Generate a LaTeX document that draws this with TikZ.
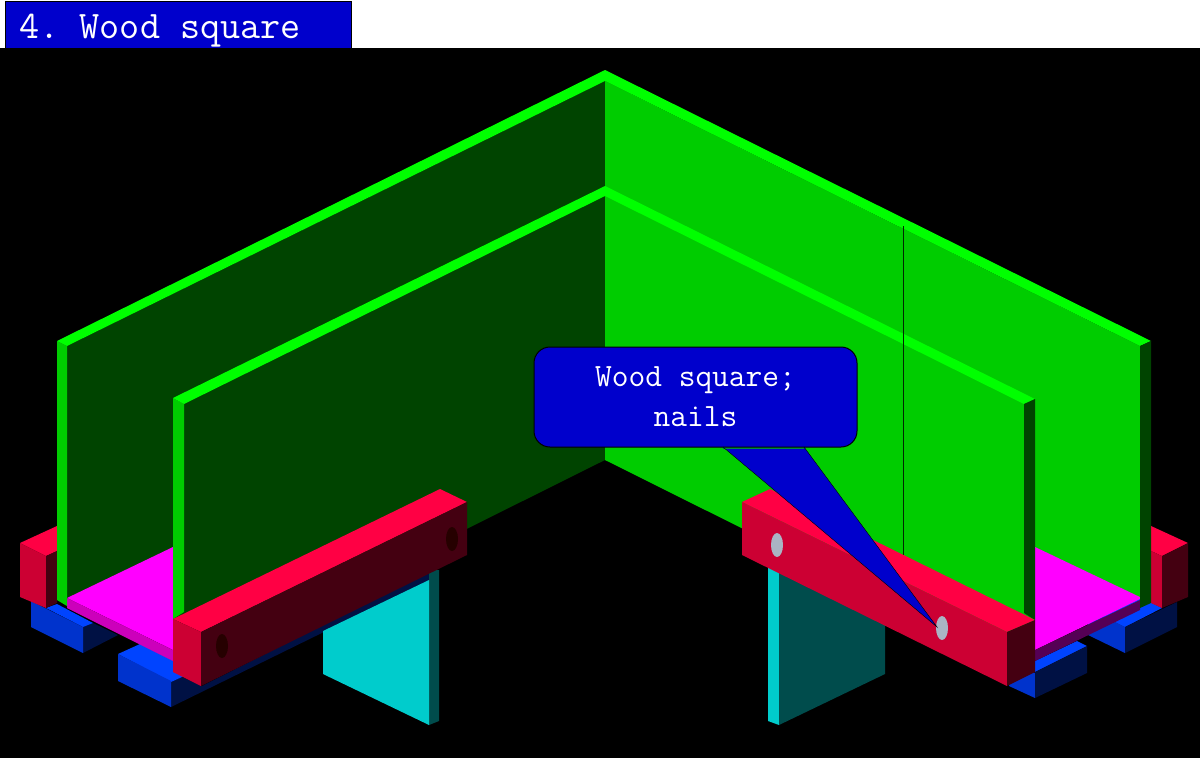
\documentclass[tikz,border=0pt]{standalone}
\definecolor{wallbright}{HTML}{00FF00}
\definecolor{wallmid}{HTML}{00CC00}
\definecolor{walldark}{HTML}{004400}
\definecolor{beamtop}{HTML}{FF0044}
\definecolor{beammid}{HTML}{CC0033}
\definecolor{beamdark}{HTML}{440011}
\definecolor{blocktop}{HTML}{0044FF}
\definecolor{blockmid}{HTML}{0033CC}
\definecolor{blockdark}{HTML}{001144}
\definecolor{panelmid}{HTML}{00CCCC}
\definecolor{paneldark}{HTML}{004C4C}
\definecolor{floorlight}{HTML}{FF00FF}
\definecolor{floorleft}{HTML}{CC00BB}
\definecolor{floorright}{HTML}{550055}
\definecolor{tagblue}{HTML}{0000CC}
\definecolor{nailgrey}{HTML}{AAB4C4}
\tikzset{
  titlebox/.style={draw=black,line width=1pt,fill=tagblue,text=white,anchor=north west,minimum height=47pt,
    text height=27pt,text depth=0pt,inner xsep=14pt,inner ysep=0pt,
    font=\fontsize{39}{40}\selectfont\ttfamily},
  tagbox/.style={draw=black,line width=1pt,fill=tagblue,text=white,rounded corners=16pt,minimum width=323pt,
    minimum height=100pt,align=center,font=\fontsize{32.5}{40}\selectfont\ttfamily},
  nail/.style={fill=nailgrey},
  hole/.style={fill=black!85!red}
}
\begin{document}
\begin{tikzpicture}[x=1pt,y=-1pt]
\useasboundingbox (0,0) rectangle (1200,758);
% page and black ground
\fill[white] (0,0) rectangle (1200,48);
\fill[black] (0,48) rectangle (1200,758);
% blocks under the left side
\fill[blockdark] (83,627) -- (93,623) -- (118,635) -- (83,653) -- cycle;
\fill[blocktop] (46,608) -- (57,604) -- (93,623) -- (83,627) -- cycle;
\fill[blockmid] (31,601) -- (83,627) -- (83,653) -- (31,627) -- cycle;
\fill[blockdark] (171,682) -- (182,677) -- (202,686) -- (436,568) -- (436,577) -- (171,707) -- cycle;
\fill[blocktop] (118,654) -- (140,644) -- (193,671) -- (182,677) -- (171,682) -- cycle;
\fill[blockmid] (118,654) -- (171,681) -- (171,707) -- (118,681) -- cycle;
% blocks under the right side
\fill[blockmid] (1088,609) -- (1125,627) -- (1125,653) -- (1088,635) -- cycle;
\fill[blocktop] (1088,609) -- (1125,590) -- (1162,608) -- (1125,627) -- cycle;
\fill[blockdark] (1125,627) -- (1177,602) -- (1177,627) -- (1125,653) -- cycle;
\fill[blockmid] (1009,660) -- (1035,673) -- (1035,698) -- (1009,686) -- cycle;
\fill[blocktop] (1035,661) -- (1077,641) -- (1087,646) -- (1035,672) -- cycle;
\fill[blockdark] (1035,672) -- (1087,646) -- (1087,673) -- (1035,698) -- cycle;
% cross pieces (cyan)
\fill[paneldark] (429,570) -- (439,570) -- (439,721) -- (429,725) -- cycle;
\fill[panelmid] (323,631) -- (429,580) -- (429,725) -- (323,674) -- cycle;
\fill[panelmid] (768,568) -- (779,568) -- (779,725) -- (768,721) -- cycle;
\fill[paneldark] (779,570) -- (885,620) -- (885,674) -- (779,725) -- cycle;
% short beam ends behind the walls
\fill[beamtop] (20,543) -- (57,526) -- (57,551) -- (46,556) -- cycle;
\fill[beammid] (20,543) -- (46,556) -- (46,608) -- (20,597) -- cycle;
\fill[beamdark] (46,556) -- (57,551) -- (57,603) -- (46,608) -- cycle;
\fill[beamtop] (1151,526) -- (1188,543) -- (1162,556) -- (1151,551) -- cycle;
\fill[beammid] (1151,551) -- (1162,556) -- (1162,608) -- (1151,603) -- cycle;
\fill[beamdark] (1162,556) -- (1188,543) -- (1188,597) -- (1162,608) -- cycle;
% wall faces
\fill[walldark] (67,346) -- (605,81) -- (605,460) -- (300,612) -- (173,620) -- (67,598) -- cycle;
\fill[wallmid] (605,81) -- (1140,346) -- (1140,598) -- (1035,640) -- (1000,657) -- (605,460) -- cycle;
% floor boards
\fill[floorlight] (67,598) -- (173,547) -- (173,650) -- cycle;
\fill[floorleft] (67,598) -- (173,650) -- (173,661) -- (67,608) -- cycle;
\fill[floorlight] (1035,547) -- (1142,598) -- (1035,650) -- cycle;
\fill[floorright] (1035,650) -- (1140,600) -- (1140,610) -- (1035,661) -- cycle;
% wall edges, back pair
\fill[wallmid] (57,341) -- (67,346) -- (67,606) -- (57,600) -- cycle;
\fill[wallbright] (57,341) -- (605,70) -- (605,81) -- (67,346) -- cycle;
\fill[wallbright] (605,70) -- (1151,341) -- (1140,346) -- (605,81) -- cycle;
\fill[walldark] (1140,346) -- (1151,341) -- (1151,603) -- (1140,608) -- cycle;
% wall edges, front pair
\fill[wallmid] (173,398) -- (184,404) -- (184,612) -- (173,619) -- cycle;
\fill[wallbright] (173,398) -- (605,186) -- (605,196) -- (184,404) -- cycle;
\fill[wallbright] (605,186) -- (1035,399) -- (1024,404) -- (605,196) -- cycle;
\fill[walldark] (1024,404) -- (1035,399) -- (1035,620) -- (1024,613) -- cycle;
% thin joint line
\draw[black!80!wallmid,line width=0.8pt] (903,226) -- (903,555);
% left beam
\fill[beamtop] (173,619) -- (440,489) -- (467,502) -- (201,632) -- cycle;
\fill[beammid] (173,619) -- (201,632) -- (201,686) -- (173,672) -- cycle;
\fill[beamdark] (201,632) -- (467,502) -- (467,555) -- (201,686) -- cycle;
\fill[hole] (222,646) ellipse [x radius=6,y radius=12];
\fill[hole] (452,539) ellipse [x radius=6,y radius=12];
% right beam
\fill[beamtop] (742,502) -- (770,489) -- (1035,620) -- (1007,632) -- cycle;
\fill[beammid] (742,502) -- (1007,632) -- (1007,686) -- (742,555) -- cycle;
\fill[beamdark] (1007,632) -- (1035,620) -- (1035,672) -- (1007,686) -- cycle;
\fill[nail] (777,545) ellipse [x radius=6,y radius=12];
\fill[nail] (942,628) ellipse [x radius=6,y radius=12];
% title
\node[titlebox] (title) at (5,1) {\makebox[318pt][l]{\frenchspacing 4. Wood square}};
\fill[black] (0,48) rectangle (360,49);
% label with pointer
\node[tagbox] (tag) at (695.5,397) {Wood square;\\nails};
\coordinate (tailleft) at (723,447);
\coordinate (tailright) at (804,447);
\coordinate (tailtip) at (937,627);
\fill[tagblue] (tailleft) -- (tailtip) -- (tailright) -- ([yshift=-1.5pt]tailright) -- ([yshift=-1.5pt]tailleft) -- cycle;
\draw[black] (tailleft) -- (tailtip) -- (tailright);
\end{tikzpicture}
\end{document}
